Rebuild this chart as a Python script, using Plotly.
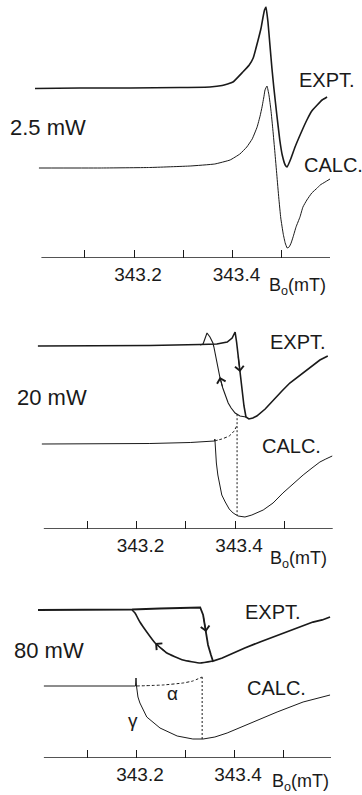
import numpy as np
import plotly.graph_objects as go

# ---------------- 2.5 mW ----------------
expt_25_field = [342.999, 343.090, 343.192, 343.293, 343.354, 343.379, 343.401, 343.421,
                 343.434, 343.442, 343.452, 343.458, 343.462, 343.465, 343.468, 343.472,
                 343.476, 343.480, 343.484, 343.490, 343.496, 343.501, 343.507, 343.511,
                 343.519, 343.527, 343.539, 343.551, 343.561, 343.572, 343.582, 343.592]
expt_25_signal = [-0.5, 0, 0, 0.5, 1, 2.5, 6, 16,
                  23, 30, 48, 60, 71, 78, 81, 66,
                  43, 20, 0, -27, -52, -67, -77, -79,
                  -70, -59, -45, -32, -23, -17, -12, -9]

calc_25_field = [343.007, 343.131, 343.232, 343.314, 343.364, 343.395, 343.415, 343.429,
                 343.440, 343.450, 343.456, 343.460, 343.464, 343.466, 343.470, 343.474,
                 343.478, 343.482, 343.486, 343.490, 343.494, 343.498, 343.503, 343.507,
                 343.511, 343.515, 343.519, 343.523, 343.529, 343.537, 343.543, 343.551,
                 343.561, 343.572, 343.578, 343.588, 343.598]
calc_25_signal = [0, 0, 0.5, 2, 4, 8, 14, 21,
                  29, 41, 52, 61, 72, 78, 82, 73,
                  58, 38, 16, -7, -30, -50, -66, -75,
                  -80, -79, -75, -69, -59, -49, -39, -32,
                  -25, -20, -17, -14, -11]

# ---------------- 20 mW ----------------
# increasing-field sweep
expt_20_up_field = [343.000, 343.126, 343.227, 343.329, 343.363, 343.384, 343.394, 343.398,
                    343.400, 343.403, 343.406, 343.410, 343.414, 343.418, 343.422, 343.428,
                    343.436, 343.444, 343.461, 343.477, 343.495, 343.511, 343.532, 343.546,
                    343.560, 343.572, 343.588]
expt_20_up_signal = [0, 0, 0.5, 1.5, 2, 4, 8, 12,
                     14, 4, -9, -26, -44, -60, -71, -73,
                     -72, -70, -63, -54, -45, -37, -29, -24,
                     -18, -14, -10]
# decreasing-field sweep
expt_20_down_field = [343.422, 343.410, 343.400, 343.392, 343.386, 343.380, 343.375, 343.369,
                      343.363, 343.357, 343.355, 343.349, 343.343, 343.339, 343.335, 343.329]
expt_20_down_signal = [-71, -70, -67, -62, -57, -49, -42, -31,
                       -14, -1, 3, 9, 13, 8, 2, 1]

calc_20_field = [343.008, 343.126, 343.227, 343.309, 343.358, 343.359, 343.360, 343.362,
                 343.365, 343.369, 343.373, 343.380, 343.388, 343.396, 343.406, 343.420,
                 343.434, 343.457, 343.477, 343.497, 343.517, 343.538, 343.556, 343.572,
                 343.584, 343.597]
calc_20_signal = [0, 0, 0.5, 1.5, 3, 5, -11, -19,
                  -31, -43, -51, -58, -65, -69, -72, -73,
                  -71, -66, -59, -49, -40, -31, -24, -18,
                  -15, -12]
calc_20_unstable_field = [343.358, 343.373, 343.388, 343.398, 343.404]
calc_20_unstable_signal = [3, 5, 8, 13, 19]
calc_20_marker_field = 343.404

# ---------------- 80 mW ----------------
expt_80_up_field = [343.000, 343.086, 343.192, 343.249, 343.324, 343.331, 343.337, 343.343,
                    343.347, 343.353, 343.357, 343.376, 343.398, 343.422, 343.453, 343.480,
                    343.508, 343.535, 343.561, 343.580, 343.596]
expt_80_up_signal = [0, 0, 0.5, 1.5, 3, 2.5, -5, -22,
                     -35, -45, -51, -48, -43, -38, -32, -27,
                     -22, -17, -12, -10, -7]
expt_80_down_field = [343.357, 343.331, 343.296, 343.263, 343.239, 343.222, 343.208, 343.198,
                      343.192]
expt_80_down_signal = [-51, -53, -50, -43, -33, -22, -12, -3,
                       0]

calc_80_field = [343.012, 343.127, 343.199, 343.200, 343.201, 343.204, 343.208, 343.222,
                 343.249, 343.284, 343.316, 343.337, 343.361, 343.386, 343.433, 343.488,
                 343.541, 343.596]
calc_80_signal = [0, 0, 0, 8, 0, -11, -17, -31,
                  -42, -50, -53, -53, -51, -47, -37, -26,
                  -16, -9]
calc_80_alpha_field = [343.201, 343.255, 343.296, 343.316, 343.335]
calc_80_alpha_signal = [0, 1, 3, 5, 9]
calc_80_marker_field = 343.335

tick_values = [343.1, 343.2, 343.3, 343.4, 343.5]
tick_text = ["", "343.2", "", "343.4", ""]
axis_span = [343.012, 343.598]

W, H = 362, 795
INK = "#1a1a1a"
FONT = "Liberation Sans, Arial, sans-serif"


def paper(px, py):
    return px / W, 1 - py / H


# per-panel frame: x range, vertical extent (pixel rows), trace offsets
panels = [
    dict(sx="", x_range=[342.92792, 343.66294], top=0, bottom=258,
         expt_off=170, calc_off=90),
    dict(sx="2", x_range=[342.92312, 343.65740], top=310, bottom=529,
         expt_off=183, calc_off=85),
    dict(sx="3", x_range=[342.92245, 343.66122], top=590, bottom=758,
         expt_off=148, calc_off=72),
]

fig = go.Figure()


def line(p, xs, ys, off, width, dash="solid", shape="spline", smoothing=0.35):
    fig.add_trace(go.Scatter(
        x=xs, y=np.asarray(ys, dtype=float) + off, mode="lines",
        line=dict(color=INK, width=width, dash=dash, shape=shape, smoothing=smoothing),
        xaxis="x" + p["sx"], yaxis="y" + p["sx"], hoverinfo="skip",
        showlegend=False))


def sweep_arrow(p, xs, ys, off, i_tail, i_head):
    fig.add_annotation(
        x=xs[i_head], y=ys[i_head] + off, ax=xs[i_tail], ay=ys[i_tail] + off,
        xref="x" + p["sx"], yref="y" + p["sx"],
        axref="x" + p["sx"], ayref="y" + p["sx"],
        text="", showarrow=True, arrowhead=4, arrowsize=1.7, arrowwidth=1,
        arrowcolor=INK)


p1, p2, p3 = panels

# 2.5 mW
line(p1, expt_25_field, expt_25_signal, p1["expt_off"], 1.6)
line(p1, calc_25_field, calc_25_signal, p1["calc_off"], 1.0)

# 20 mW
line(p2, expt_20_up_field, expt_20_up_signal, p2["expt_off"], 1.6, shape="linear")
line(p2, expt_20_down_field, expt_20_down_signal, p2["expt_off"], 1.1, shape="linear")
line(p2, calc_20_field, calc_20_signal, p2["calc_off"], 1.0, shape="linear")
line(p2, calc_20_unstable_field, calc_20_unstable_signal, p2["calc_off"], 1.0,
     dash="3px,2px")
down_sorted = np.argsort(expt_20_down_field)
top20 = np.interp(calc_20_marker_field, np.array(expt_20_down_field)[down_sorted],
                  np.array(expt_20_down_signal)[down_sorted]) + p2["expt_off"]
bot20 = np.interp(calc_20_marker_field, calc_20_field, calc_20_signal) + p2["calc_off"]
line(p2, [calc_20_marker_field] * 2, [top20, bot20], 0, 1.0, dash="2px,2px",
     shape="linear")
sweep_arrow(p2, expt_20_up_field, expt_20_up_signal, p2["expt_off"], 10, 11)
sweep_arrow(p2, expt_20_down_field, expt_20_down_signal, p2["expt_off"], 6, 7)

# 80 mW
line(p3, expt_80_up_field, expt_80_up_signal, p3["expt_off"], 1.8, shape="linear")
line(p3, expt_80_down_field, expt_80_down_signal, p3["expt_off"], 1.6)
line(p3, calc_80_field, calc_80_signal, p3["calc_off"], 1.0, shape="linear")
line(p3, calc_80_alpha_field, calc_80_alpha_signal, p3["calc_off"], 1.0, dash="3px,2px")
top80 = calc_80_alpha_signal[-1] + p3["calc_off"]
bot80 = np.interp(calc_80_marker_field, calc_80_field, calc_80_signal) + p3["calc_off"]
line(p3, [calc_80_marker_field] * 2, [top80, bot80], 0, 1.0, dash="2px,2px",
     shape="linear")
sweep_arrow(p3, expt_80_up_field, expt_80_up_signal, p3["expt_off"], 6, 7)
sweep_arrow(p3, expt_80_down_field, expt_80_down_signal, p3["expt_off"], 3, 4)

# axes
layout = dict(width=W, height=H, autosize=False, margin=dict(l=0, r=0, t=0, b=0),
              paper_bgcolor="white", plot_bgcolor="white", showlegend=False)
for p in panels:
    sx = p["sx"]
    y0 = 1 - p["bottom"] / H
    y1 = 1 - p["top"] / H
    layout["xaxis" + sx] = dict(
        domain=[0, 1], range=p["x_range"], anchor="y" + sx,
        showgrid=False, zeroline=False, showline=False,
        ticks="inside", ticklen=8, tickwidth=1.2, tickcolor=INK,
        tickvals=tick_values, ticktext=tick_text, ticklabelshift=4,
        ticklabelstandoff=3,
        tickfont=dict(family=FONT, size=19, color=INK))
    layout["yaxis" + sx] = dict(
        domain=[y0, y1], range=[0, p["bottom"] - p["top"]], visible=False,
        fixedrange=True)
fig.update_layout(**layout)

for p in panels:
    fig.add_shape(type="line", xref="x" + p["sx"], yref="y" + p["sx"],
                  x0=axis_span[0], x1=axis_span[1], y0=0, y1=0,
                  line=dict(color=INK, width=1.3))


def label(text, px, py, size, anchor="left"):
    x, y = paper(px, py)
    fig.add_annotation(x=x, y=y, xref="paper", yref="paper", text=text,
                       showarrow=False, xanchor=anchor, yanchor="middle",
                       font=dict(family=FONT, size=size, color=INK))


label("EXPT.", 297, 80, 20)
label("CALC.", 302, 165, 20)
label("2.5 mW", 8, 128, 22)
label("B<sub>o</sub>(mT)", 267, 287, 18)

label("EXPT.", 268, 342, 20)
label("CALC.", 260, 446, 20)
label("20 mW", 15, 397, 22)
label("B<sub>o</sub>(mT)", 268, 559, 18)

label("EXPT.", 243, 612, 20)
label("CALC.", 245, 688, 20)
label("80 mW", 12, 650, 22)
label("B<sub>o</sub>(mT)", 270, 782, 18)
label("α", 172, 693, 19, anchor="center")
label("γ", 133, 720, 19, anchor="center")

fig.write_html("out.html")
